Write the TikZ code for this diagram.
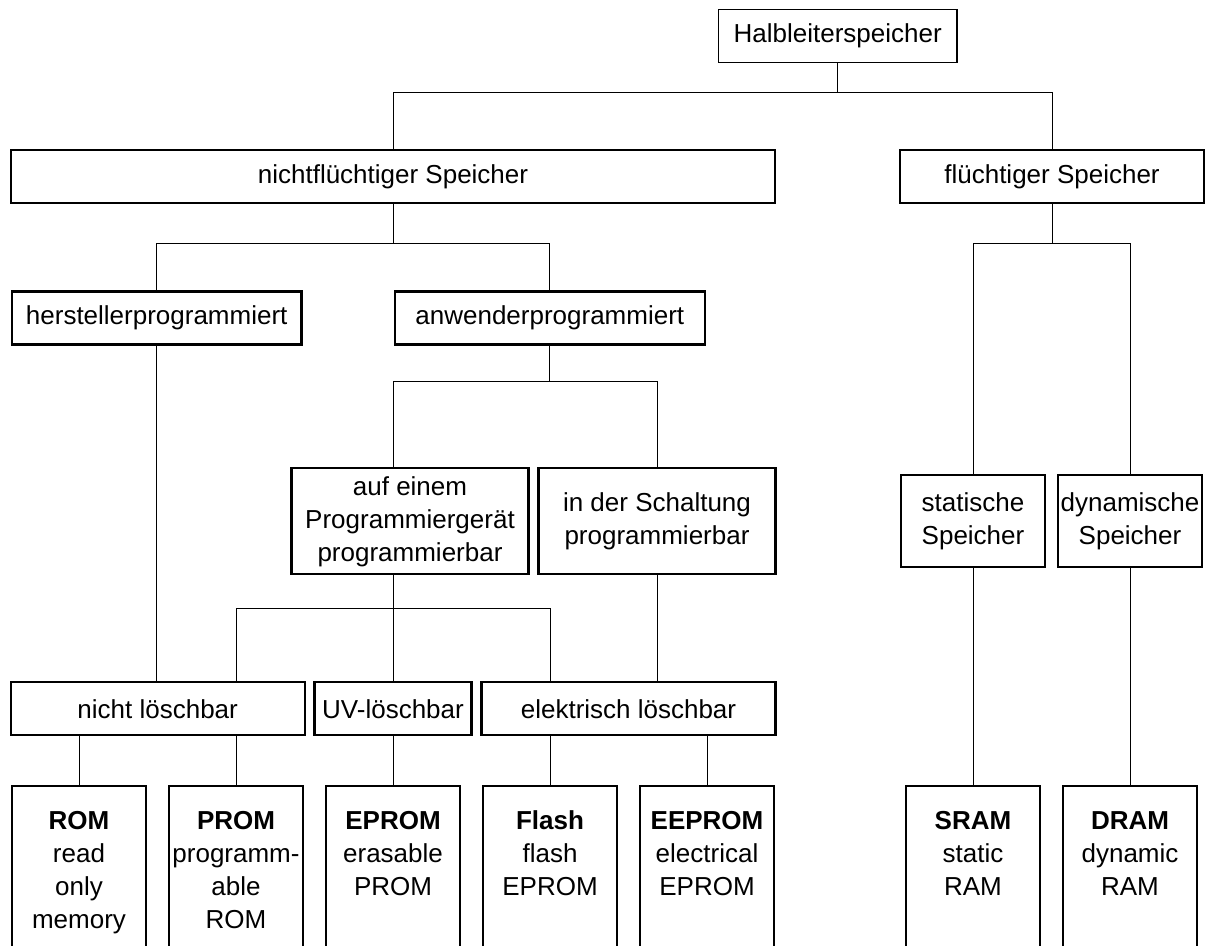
\documentclass[tikz,border=0pt]{standalone}
\usepackage{fontspec}
\setmainfont{Liberation Sans}
\begin{document}
\begin{tikzpicture}[x=1pt,y=-1pt,
  every node/.style={font=\fontsize{26}{33}\selectfont},
  box/.style={draw, line width=2.2pt, inner sep=0pt, align=center},
  link/.style={line width=0.9pt},
  leafframe/.style={minimum width=134pt, minimum height=170pt, inner sep=0pt},
  leafline/.style={line width=2.2pt},
  leaftext/.style={anchor=north, inner sep=0pt, align=center}]
\useasboundingbox (0,0) rectangle (1206,945);

% bus levels
\coordinate (y1) at (0,92);
\coordinate (y2) at (0,243.7);
\coordinate (y3) at (0,381.3);
\coordinate (y4) at (0,608.7);

% classification boxes
\node[box, line width=1.5pt, minimum width=238.5pt, minimum height=53.4pt] (top) at (837.7,36) {Halbleiterspeicher};
\node[box, minimum width=764pt, minimum height=53pt] (nfs) at (393,176.5) {nichtflüchtiger Speicher};
\node[box, minimum width=304pt, minimum height=53pt] (fs) at (1052,176.5) {flüchtiger Speicher};
\node[box, minimum width=289.5pt, minimum height=53pt] (hp) at (156.7,318) {herstellerprogrammiert};
\node[box, minimum width=310.4pt, minimum height=53pt] (ap) at (549.8,318) {anwenderprogrammiert};
\node[box, minimum width=237pt, minimum height=106pt] (auf) at (410,521.3) {auf einem\\Programmiergerät\\programmierbar};
\node[box, minimum width=237pt, minimum height=106pt] (sch) at (657,521.3) {in der Schaltung\\programmierbar};
\node[box, minimum width=144.6pt, minimum height=92pt] (stat) at (973,521.2) {statische\\Speicher};
\node[box, minimum width=144.6pt, minimum height=92pt] (dyn) at (1130,521.2) {dynamische\\Speicher};
\node[box, minimum width=293.8pt, minimum height=53.3pt] (nl) at (157.7,708.7) {nicht löschbar};
\node[box, minimum width=157pt, minimum height=53.3pt] (uv) at (393,708.7) {UV-löschbar};
\node[box, minimum width=294pt, minimum height=53.3pt] (el) at (628.5,708.7) {elektrisch löschbar};

% memory types (frames open at the bottom edge)
\foreach \n/\x in {rom/79, prom/236, eprom/393, flash/550, eeprom/707, sram/973, dram/1130}{
  \node[leafframe] (\n) at (\x,871) {};
  \draw[leafline] (\n.south west) |- (\n.north east) -- (\n.south east);
}
\node[leaftext] (romt) at ([yshift=-20.4pt]rom.north) {\strut\textbf{ROM}\\read\\only\\memory};
\node[leaftext] (promt) at ([yshift=-20.4pt]prom.north) {\strut\textbf{PROM}\\programm-\\able\\ROM};
\node[leaftext] (epromt) at ([yshift=-20.4pt]eprom.north) {\strut\textbf{EPROM}\\erasable\\PROM};
\node[leaftext] (flasht) at ([yshift=-20.4pt]flash.north) {\strut\textbf{Flash}\\flash\\EPROM};
\node[leaftext] (eepromt) at ([yshift=-20.4pt]eeprom.north) {\strut\textbf{EEPROM}\\electrical\\EPROM};
\node[leaftext] (sramt) at ([yshift=-20.4pt]sram.north) {\strut\textbf{SRAM}\\static\\RAM};
\node[leaftext] (dramt) at ([yshift=-20.4pt]dram.north) {\strut\textbf{DRAM}\\dynamic\\RAM};

% tree connectors
\draw[link] (top.south) -- (top.south |- y1);
\draw[link] (nfs.north) |- (fs.north |- y1) -- (fs.north);

\draw[link] (nfs.south) -- (nfs.south |- y2);
\draw[link] (hp.north) |- (ap.north |- y2) -- (ap.north);

\draw[link] (fs.south) -- (fs.south |- y2);
\draw[link] (stat.north) |- (dyn.north |- y2) -- (dyn.north);

\draw[link] (ap.south) -- (ap.south |- y3);
\draw[link] (auf.north -| uv.north) |- (sch.north |- y3) -- (sch.north);

\draw[link] (auf.south -| uv.north) -- (uv.north |- y4);
\draw[link] (nl.north -| prom.north) |- (flash.north |- y4) -- (el.north -| flash.north);
\draw[link] (uv.north |- y4) -- (uv.north);

\draw[link] (hp.south) -- (nl.north -| hp.south);
\draw[link] (sch.south) -- (el.north -| sch.south);

\draw[link] (nl.south -| rom.north) -- (rom.north);
\draw[link] (nl.south -| prom.north) -- (prom.north);
\draw[link] (uv.south) -- (eprom.north);
\draw[link] (el.south -| flash.north) -- (flash.north);
\draw[link] (el.south -| eeprom.north) -- (eeprom.north);
\draw[link] (stat.south) -- (sram.north);
\draw[link] (dyn.south) -- (dram.north);
\end{tikzpicture}
\end{document}
